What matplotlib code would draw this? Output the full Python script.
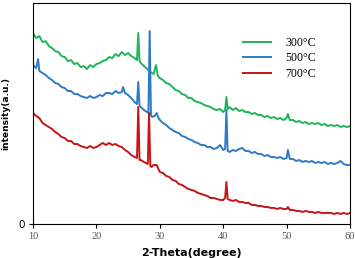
import matplotlib
matplotlib.use('agg')
import matplotlib.pyplot as plt
import numpy as np

# XRD patterns (intensity in arbitrary units)
x_300 = [10, 10.5, 11, 11.5, 12, 12.5, 13, 13.5, 14, 14.5, 15, 15.5, 16, 16.5, 17, 17.5, 18, 18.5, 19, 19.5,
         20, 20.5, 21, 21.5, 22, 22.5, 23, 23.5, 24, 24.5, 25, 25.5, 26, 26.4, 26.6, 26.8, 27, 27.5, 28, 28.5,
         29, 29.4, 29.7, 30, 30.5, 31, 31.5, 32, 32.5, 33, 33.5, 34, 34.5, 35, 35.5, 36, 36.5, 37, 37.5, 38,
         38.5, 39, 39.5, 40, 40.3, 40.5, 40.7, 41, 41.5, 42, 42.5, 43, 43.5, 44, 44.5, 45, 45.5, 46, 46.5, 47,
         47.5, 48, 48.5, 49, 49.5, 50, 50.2, 50.5, 51, 51.5, 52, 52.5, 53, 53.5, 54, 54.5, 55, 55.5, 56, 56.5,
         57, 57.5, 58, 58.5, 59, 59.5, 60]
y_300 = [191, 186, 188, 182, 183, 178, 176, 173, 172, 168, 167, 163, 164, 160, 161, 157, 158, 155, 159, 157,
         160, 161, 163, 164, 167, 166, 170, 168, 172, 169, 171, 168, 166, 164, 191, 163, 161, 158, 155, 152,
         150, 159, 148, 146, 144, 141, 140, 137, 134, 133, 130, 129, 126, 126, 123, 122, 121, 119, 118, 117,
         115, 114, 115, 112, 114, 127, 115, 117, 114, 116, 113, 114, 112, 112, 110, 111, 109, 109, 107, 108,
         106, 107, 105, 106, 104, 106, 110, 104, 104, 102, 103, 101, 102, 100, 101, 100, 101, 99, 100, 98,
         99, 98, 99, 97, 98, 97, 98]

x_500 = [10, 10.5, 10.8, 11, 11.5, 12, 12.5, 13, 13.5, 14, 14.5, 15, 15.5, 16, 16.5, 17, 17.5, 18, 18.5, 19,
         19.5, 20, 20.5, 21, 21.5, 22, 22.5, 23, 23.5, 24, 24.2, 24.5, 25, 25.5, 26, 26.4, 26.6, 26.8, 27, 27.5,
         28, 28.2, 28.4, 28.6, 28.8, 29.2, 29.5, 29.8, 30, 30.5, 31, 31.5, 32, 32.5, 33, 33.5, 34, 34.5, 35,
         35.5, 36, 36.5, 37, 37.5, 38, 38.5, 39, 39.5, 40, 40.3, 40.5, 40.7, 41, 41.5, 42, 42.5, 43, 43.5, 44,
         44.5, 45, 45.5, 46, 46.5, 47, 47.5, 48, 48.5, 49, 49.5, 50, 50.2, 50.5, 51, 51.5, 52, 52.5, 53, 53.5,
         54, 54.5, 55, 55.5, 56, 56.5, 57, 57.5, 58, 58.5, 59, 59.5, 60]
y_500 = [159, 156, 165, 153, 151, 149, 146, 144, 141, 140, 137, 136, 133, 133, 130, 130, 128, 127, 126, 128,
         126, 127, 129, 128, 131, 131, 130, 133, 131, 132, 137, 131, 129, 126, 122, 120, 142, 118, 117, 114,
         112, 111, 193, 109, 107, 108, 111, 106, 104, 101, 99, 96, 94, 92, 91, 88, 87, 85, 84,
         82, 81, 79, 79, 77, 77, 75, 76, 79, 74, 75, 114, 73, 72, 74, 73, 75, 76, 73, 73,
         71, 72, 70, 70, 68, 69, 67, 67, 66, 67, 65, 66, 74, 65, 65, 63, 64, 62, 63, 62,
         63, 61, 62, 61, 62, 60, 61, 60, 61, 63, 60, 59, 59]

x_700 = [10, 10.5, 11, 11.5, 12, 12.5, 13, 13.5, 14, 14.5, 15, 15.5, 16, 16.5, 17, 17.5, 18, 18.5, 19, 19.5,
         20, 20.5, 21, 21.5, 22, 22.5, 23, 23.5, 24, 24.5, 25, 25.5, 26, 26.4, 26.6, 26.8, 27, 27.5, 27.8, 28.1,
         28.3, 28.5, 28.7, 29, 29.5, 30, 30.5, 31, 31.5, 32, 32.5, 33, 33.5, 34, 34.5, 35, 35.5, 36, 36.5, 37,
         37.5, 38, 38.5, 39, 39.5, 40, 40.3, 40.5, 40.7, 41, 41.5, 42, 42.5, 43, 43.5, 44, 44.5, 45, 45.5, 46,
         46.5, 47, 47.5, 48, 48.5, 49, 49.5, 50, 50.2, 50.5, 51, 51.5, 52, 52.5, 53, 53.5, 54, 54.5, 55, 55.5,
         56, 56.5, 57, 57.5, 58, 58.5, 59, 59.5, 60]
y_700 = [111, 108, 106, 101, 99, 97, 95, 92, 90, 87, 86, 83, 83, 80, 80, 78, 77, 76, 78, 76,
         77, 79, 81, 79, 81, 79, 80, 78, 77, 74, 72, 69, 67, 66, 117, 64, 64, 62, 61, 60,
         111, 58, 57, 59, 59, 52, 51, 48, 47, 44, 43, 40, 39, 37, 35, 34, 33, 31, 30, 29,
         28, 26, 26, 25, 24, 24, 26, 42, 25, 24, 23, 24, 22, 22, 21, 21, 19, 19, 18, 18,
         17, 17, 16, 16, 15, 16, 15, 15, 17, 14, 14, 13, 13, 12, 13, 12, 12, 11, 12, 11,
         11, 11, 11, 10, 11, 10, 11, 10, 11]

labels = ['300°C', '500°C', '700°C']
colors = ['#1fb35a', '#2e7bc4', '#c81414']

fig = plt.figure(figsize=(3.55, 2.58), dpi=100)
ax = fig.add_axes([0.093, 0.132, 0.893, 0.856])

ax.plot(x_300, y_300, color=colors[0], lw=1.4, label=labels[0])
ax.plot(x_500, y_500, color=colors[1], lw=1.4, label=labels[1])
ax.plot(x_700, y_700, color=colors[2], lw=1.4, label=labels[2])

ax.set_xlim(10, 60)
ax.set_ylim(0, 221)
ax.set_xticks([10, 20, 30, 40, 50, 60])
ax.set_yticks([0])
for t in ax.get_xticklabels():
    t.set_fontfamily('Liberation Serif')
    t.set_color('#555555')
    t.set_fontsize(7.5)
for t in ax.get_yticklabels():
    t.set_fontsize(7.5)
ax.tick_params(length=3, width=0.8, pad=3)
for s in ax.spines.values():
    s.set_linewidth(0.8)

ax.set_xlabel('2-Theta(degree)', fontsize=8, fontweight='bold', labelpad=5)
ax.set_ylabel('intensity(a.u.)', fontsize=6.5, fontweight='bold', labelpad=6)

leg = ax.legend(loc='upper right', bbox_to_anchor=(0.925, 0.895), frameon=False,
                prop={'family': 'Liberation Serif', 'size': 8.5},
                handlelength=2.4, handletextpad=1.2, labelspacing=0.3)

fig.savefig('out.png', dpi=100)
